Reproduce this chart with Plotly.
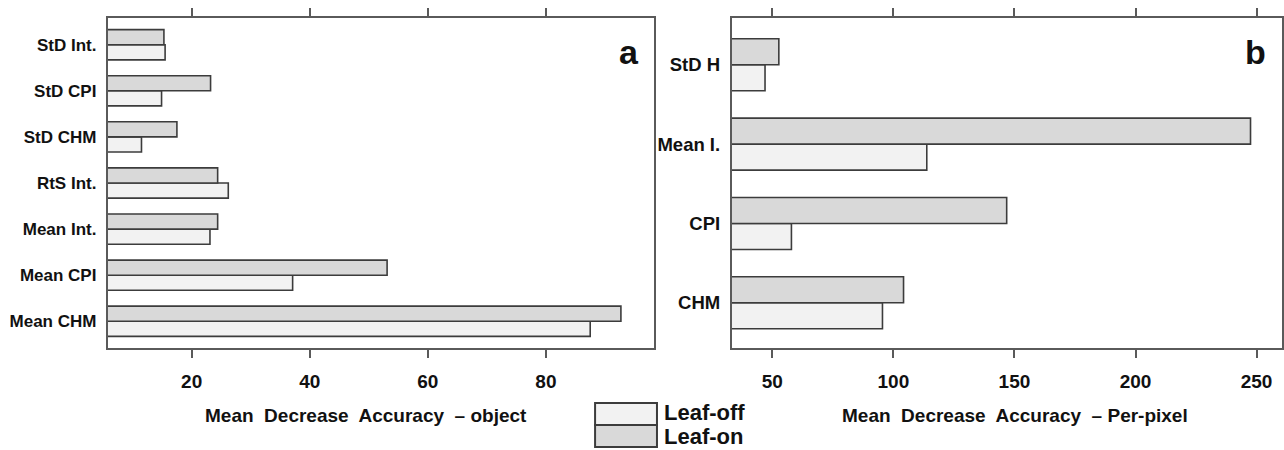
import plotly.graph_objects as go

W, H = 1284, 450
MT, MB = 18, 102  # plot area top / bottom margin in px

# ---- data ----
cats_a = ["Mean CHM", "Mean CPI", "Mean Int.", "RtS Int.", "StD CHM", "StD CPI", "StD Int."]
leaf_off_a = [87.5, 37.1, 23.1, 26.2, 11.5, 14.9, 15.5]
leaf_on_a = [92.7, 53.1, 24.4, 24.4, 17.5, 23.2, 15.3]

cats_b = ["CHM", "CPI", "Mean I.", "StD H"]
leaf_off_b = [95.5, 57.9, 113.8, 47.0]
leaf_on_b = [104.2, 146.8, 247.5, 52.7]

ticks_a = [20, 40, 60, 80]
ticks_b = [50, 100, 150, 200, 250]

C_OFF = "#f2f2f2"
C_ON = "#d9d9d9"
C_EDGE = "#3c3c3c"
C_AX = "#5a5a5a"
FONT = "Arial, Liberation Sans, sans-serif"


def px(x):
    return x / W


def py(y):
    return (H - MB - y) / (H - MT - MB)


fig = go.Figure()
bar_line = dict(color=C_EDGE, width=1.6)
fig.add_trace(go.Bar(y=cats_a, x=leaf_off_a, orientation="h", name="Leaf-off",
                     marker=dict(color=C_OFF, line=bar_line), xaxis="x", yaxis="y"))
fig.add_trace(go.Bar(y=cats_a, x=leaf_on_a, orientation="h", name="Leaf-on",
                     marker=dict(color=C_ON, line=bar_line), xaxis="x", yaxis="y"))
fig.add_trace(go.Bar(y=cats_b, x=leaf_off_b, orientation="h", name="Leaf-off",
                     marker=dict(color=C_OFF, line=bar_line), xaxis="x2", yaxis="y2"))
fig.add_trace(go.Bar(y=cats_b, x=leaf_on_b, orientation="h", name="Leaf-on",
                     marker=dict(color=C_ON, line=bar_line), xaxis="x2", yaxis="y2"))

xcommon = dict(showline=True, linecolor=C_AX, linewidth=2, mirror="ticks",
               ticks="outside", ticklen=8, tickwidth=1.5, tickcolor=C_AX,
               showgrid=False, zeroline=False, ticklabelstandoff=7,
               tickfont=dict(family=FONT, size=19, color="#111", weight="bold"))
ycommon = dict(showline=True, linecolor=C_AX, linewidth=2, mirror=True,
               ticks="", showgrid=False, zeroline=False, type="category",
               ticklabelstandoff=6)

fig.update_layout(
    width=W, height=H,
    margin=dict(l=0, r=0, t=MT, b=MB),
    paper_bgcolor="white", plot_bgcolor="white",
    barmode="group", bargap=0.345, bargroupgap=0,
    showlegend=False,
    xaxis=dict(domain=[px(108), px(655)], range=[5.8, 98.3], anchor="y",
               tickvals=ticks_a, **xcommon),
    yaxis=dict(domain=[0, 1], anchor="x", range=[-0.58, 6.58],
               categoryorder="array", categoryarray=cats_a,
               tickfont=dict(family=FONT, size=17, color="#111", weight="bold"), **ycommon),
    xaxis2=dict(domain=[px(733), 1.0], range=[33.3, 260.5], anchor="y2",
                tickvals=ticks_b, **xcommon),
    yaxis2=dict(domain=[0, 1], anchor="x2", range=[-0.57, 3.59],
                categoryorder="array", categoryarray=cats_b,
                tickfont=dict(family=FONT, size=18.5, color="#111", weight="bold"), **ycommon),
)

bold = lambda s: "<b>" + s + "</b>"


def note(x, y, text, size, xanchor="center"):
    return dict(x=px(x), y=py(y), text=bold(text), showarrow=False,
                xanchor=xanchor, yanchor="middle", xref="paper", yref="paper",
                borderpad=0,
                font=dict(family=FONT, size=size, color="#111"))


ann = [
    note(630, 52, "a", 34),
    note(1257, 52, "b", 34),
    note(367, 415, "Mean&nbsp; Decrease&nbsp; Accuracy&nbsp; – object", 19),
    note(1017, 415, "Mean&nbsp; Decrease&nbsp; Accuracy&nbsp; – Per-pixel", 19),
    note(664, 412, "Leaf-off", 22, "left"),
    note(664, 436, "Leaf-on", 22, "left"),
]
fig.update_layout(annotations=ann)

# legend swatches
fig.add_shape(type="rect", xref="paper", yref="paper",
              x0=px(596), x1=px(658), y0=py(425), y1=py(403),
              fillcolor=C_OFF, line=dict(color=C_EDGE, width=2))
fig.add_shape(type="rect", xref="paper", yref="paper",
              x0=px(596), x1=px(658), y0=py(447), y1=py(425),
              fillcolor=C_ON, line=dict(color=C_EDGE, width=2))

fig.write_html("out.html")
